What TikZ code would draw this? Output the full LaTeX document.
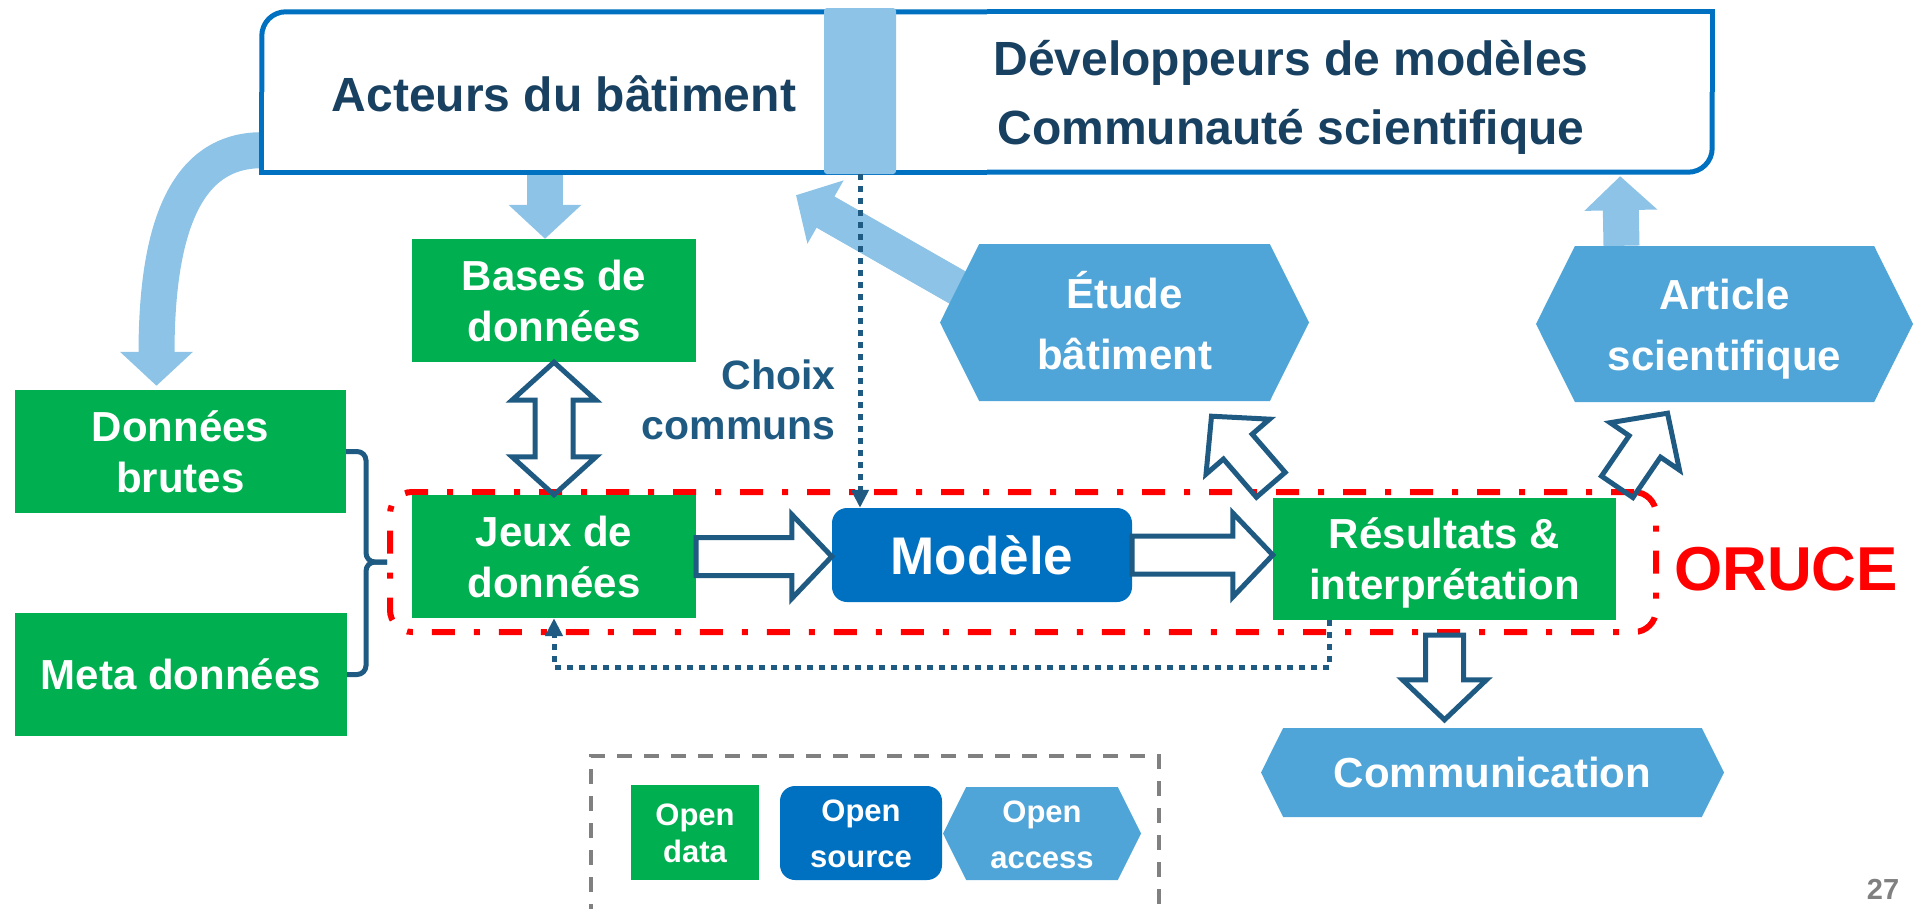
\documentclass[tikz,border=0pt]{standalone}
\usepackage{fontspec}
\setmainfont{Liberation Sans}
\usetikzlibrary{arrows.meta,calc,shapes.symbols,backgrounds}
\definecolor{oggreen}{HTML}{00B050}
\definecolor{ogblue}{HTML}{0070C0}
\definecolor{hexblue}{HTML}{4FA5D8}
\definecolor{paleblue}{HTML}{8DC3E6}
\definecolor{navy}{HTML}{1F5A82}
\definecolor{inkblue}{HTML}{184060}
\definecolor{orucered}{HTML}{FF0000}
\definecolor{legendgray}{HTML}{808080}
\begin{document}
\begin{tikzpicture}[x=1pt,y=-1pt,
  plainbox/.style={inner sep=0pt,text=white,align=center,
    font=\fontsize{42}{51}\selectfont\bfseries},
  greenbox/.style={plainbox,fill=oggreen},
  twoline/.style={text height=90pt,text depth=9pt},
  hexbox/.style={plainbox,fill=hexblue,shape=signal,signal to=east and west,
    signal pointer angle=127,font=\fontsize{42}{61}\selectfont\bfseries},
  legendtext/.style={font=\fontsize{31}{#1}\selectfont\bfseries},
  legendtext/.default=37,
  toptext/.style={text=inkblue,align=center,font=\fontsize{48}{69}\selectfont\bfseries},
  topline/.style={ogblue,line width=5pt},
  fatarrow/.style={paleblue,line width=36pt,-{Triangle[length=34pt,width=71pt]}},
  hollow/.style={draw=navy,line width=5pt,line join=miter},
  dotarrow/.style={navy,line width=5pt,dash pattern=on 6pt off 6pt,
    -{Triangle[length=18pt,width=17pt]}},
  bracepath/.style={navy,line width=5pt,rounded corners=9pt}]
\useasboundingbox (0,0) rectangle (1915,908);
\def\blockarrow#1#2{%
  \draw[hollow] let \p1=(#1), \p2=(#2), \p3=($(\p2)-(\p1)$),
    \n1={atan2(\y3,\x3)}, \n2={veclen(\x3,\y3)-40pt} in
    ($(\p1)+(\n1+90:19pt)$) -- ($(\p1)+(\n1:\n2)+(\n1+90:19pt)$)
    -- ($(\p1)+(\n1:\n2)+(\n1+90:42pt)$) -- (\p2)
    -- ($(\p1)+(\n1:\n2)+(\n1-90:42pt)$) -- ($(\p1)+(\n1:\n2)+(\n1-90:19pt)$)
    -- ($(\p1)+(\n1-90:19pt)$) -- cycle;}
\def\dblarrow#1#2{%
  \draw[hollow] let \p1=(#1), \p2=(#2), \p3=($(\p2)-(\p1)$),
    \n1={atan2(\y3,\x3)}, \n2={veclen(\x3,\y3)-38pt} in
    (\p1) -- ($(\p1)+(\n1:38pt)+(\n1+90:42pt)$) -- ($(\p1)+(\n1:38pt)+(\n1+90:19pt)$)
    -- ($(\p1)+(\n1:\n2)+(\n1+90:19pt)$) -- ($(\p1)+(\n1:\n2)+(\n1+90:42pt)$) -- (\p2)
    -- ($(\p1)+(\n1:\n2)+(\n1-90:42pt)$) -- ($(\p1)+(\n1:\n2)+(\n1-90:19pt)$)
    -- ($(\p1)+(\n1:38pt)+(\n1-90:19pt)$) -- ($(\p1)+(\n1:38pt)+(\n1-90:42pt)$) -- cycle;}
% top frame
\node[minimum width=1450pt,minimum height=160pt,inner sep=0pt] (topbox) at (987,92) {};
\draw[topline,rounded corners=24pt]
  (topbox.west) -- (topbox.north west) -- (topbox.north)
  (topbox.east) -- (topbox.south east) -- (topbox.south);
\draw[topline]
  (topbox.north) -- (topbox.north east) -- (topbox.east)
  (topbox.south) -- (topbox.south west) -- (topbox.west);
\node[fill=paleblue,rounded corners=3pt,inner sep=0pt,minimum width=72pt,minimum height=166pt] (bar) at (860,91) {};
\node[toptext] (acteurs) at (564,94) {Acteurs du bâtiment};
\node[toptext,text height=112pt,text depth=10pt] (devs) at (1291,93) {Développeurs de modèles\\Communauté scientifique};
% ORUCE frame
\node[draw=orucered,line width=6pt,dash pattern=on 23pt off 19pt on 6pt off 19pt,
  rounded corners=22pt,minimum width=1266pt,minimum height=140pt] (oruce) at (1023,562) {};
\node[text=orucered,font=\fontsize{62}{62}\selectfont\bfseries] (orucelabel) at (1786,569) {ORUCE};
% boxes
\node[greenbox,twoline,minimum width=284pt,minimum height=123pt] (bases) at (554,300.5) {Bases de\\données};
\node[greenbox,twoline,minimum width=284pt,minimum height=123pt] (jeux) at (554,556.5) {Jeux de\\données};
\node[greenbox,twoline,minimum width=331pt,minimum height=123pt] (brutes) at (180.5,451.5) {Données\\brutes};
\node[greenbox,minimum width=332pt,minimum height=123pt] (meta) at (181,674.5) {Meta données};
\node[greenbox,twoline,minimum width=343pt,minimum height=122pt] (resultats) at (1444.5,559) {Résultats \&\\interprétation};
\node[plainbox,fill=ogblue,rounded corners=15pt,minimum width=300pt,minimum height=94pt,
  font=\fontsize{53}{53}\selectfont\bfseries] (modele) at (982,555) {Modèle};
\node[hexbox,text height=102pt,text depth=9pt,minimum width=369pt,minimum height=157pt] (etude) at (1124.5,322.5) {Étude\\bâtiment};
\node[hexbox,text height=102pt,text depth=9pt,minimum width=377pt,minimum height=156pt] (article) at (1724.5,324) {Article\\scientifique};
\node[hexbox,minimum width=463pt,minimum height=89pt] (communication) at (1492.5,772.5) {Communication};
\node[text=navy,align=right,anchor=east,font=\fontsize{41}{50}\selectfont\bfseries] (choix) at (839,400) {Choix\\communs};
% legend
\node[draw=legendgray,line width=4pt,dash pattern=on 15pt off 12pt,minimum width=568pt,minimum height=174pt] (legend) at (875,843) {};
\node[greenbox,legendtext,text height=66pt,text depth=7pt,minimum width=128pt,minimum height=95pt] (opendata) at (695,832.5) {Open\\data};
\node[plainbox,legendtext=46,text height=75pt,text depth=7pt,fill=ogblue,rounded corners=15pt,minimum width=162pt,minimum height=94pt] (opensource) at (861,833) {Open\\source};
\node[hexbox,legendtext=46,text height=76pt,text depth=7pt,minimum width=198pt,minimum height=93pt] (openaccess) at (1042,833.5) {Open\\access};
\node[text=legendgray,font=\fontsize{29}{29}\selectfont\bfseries] (page) at (1883,889) {27};
% pale arrows
\begin{scope}[on background layer]
  \draw[fatarrow] ($(topbox.south west)+(0,-22)$) .. controls +(-75,0) and +(0,-160) .. ($(brutes.north)+(-24,-4)$);
  \draw[fatarrow] ($(bases.north |- topbox.south)+(-9,0)$) -- ($(bases.north)+(-9,0)$);
  \draw[fatarrow] ($(etude.center)+(-125,-11)$) -- ($(bar.south)+(-64,21)$);
  \draw[fatarrow] ($(article.north)+(-103,0)$) -- ($(topbox.south east)+(-92,4)$);
\end{scope}
% hollow arrows
\dblarrow{bases.south}{jeux.north}
\blockarrow{jeux.east}{jeux.east -| modele.west}
\blockarrow{modele.east}{modele.east -| resultats.west}
\blockarrow{resultats.south |- oruce.south}{$(resultats.south |- communication.north)+(0,-8)$}
\blockarrow{$(resultats.north west)+(-2,-13)$}{$(etude.south)+(87,15)$}
\blockarrow{$(resultats.north east)+(1,-11)$}{$(article.south)+(-57,11)$}
% dotted links
\draw[dotarrow] (bar.south) -- (bar.south |- modele.north);
\draw[dotarrow] ($(resultats.south west)+(57,0)$) -- ++(0,47) -| (jeux.south);
% brace
\draw[bracepath] (brutes.east) -| ($(oruce.west)+(-21,0)$) -- (oruce.west);
\draw[bracepath] (meta.east) -| ($(oruce.west)+(-21,0)$) -- (oruce.west);
\end{tikzpicture}
\end{document}
